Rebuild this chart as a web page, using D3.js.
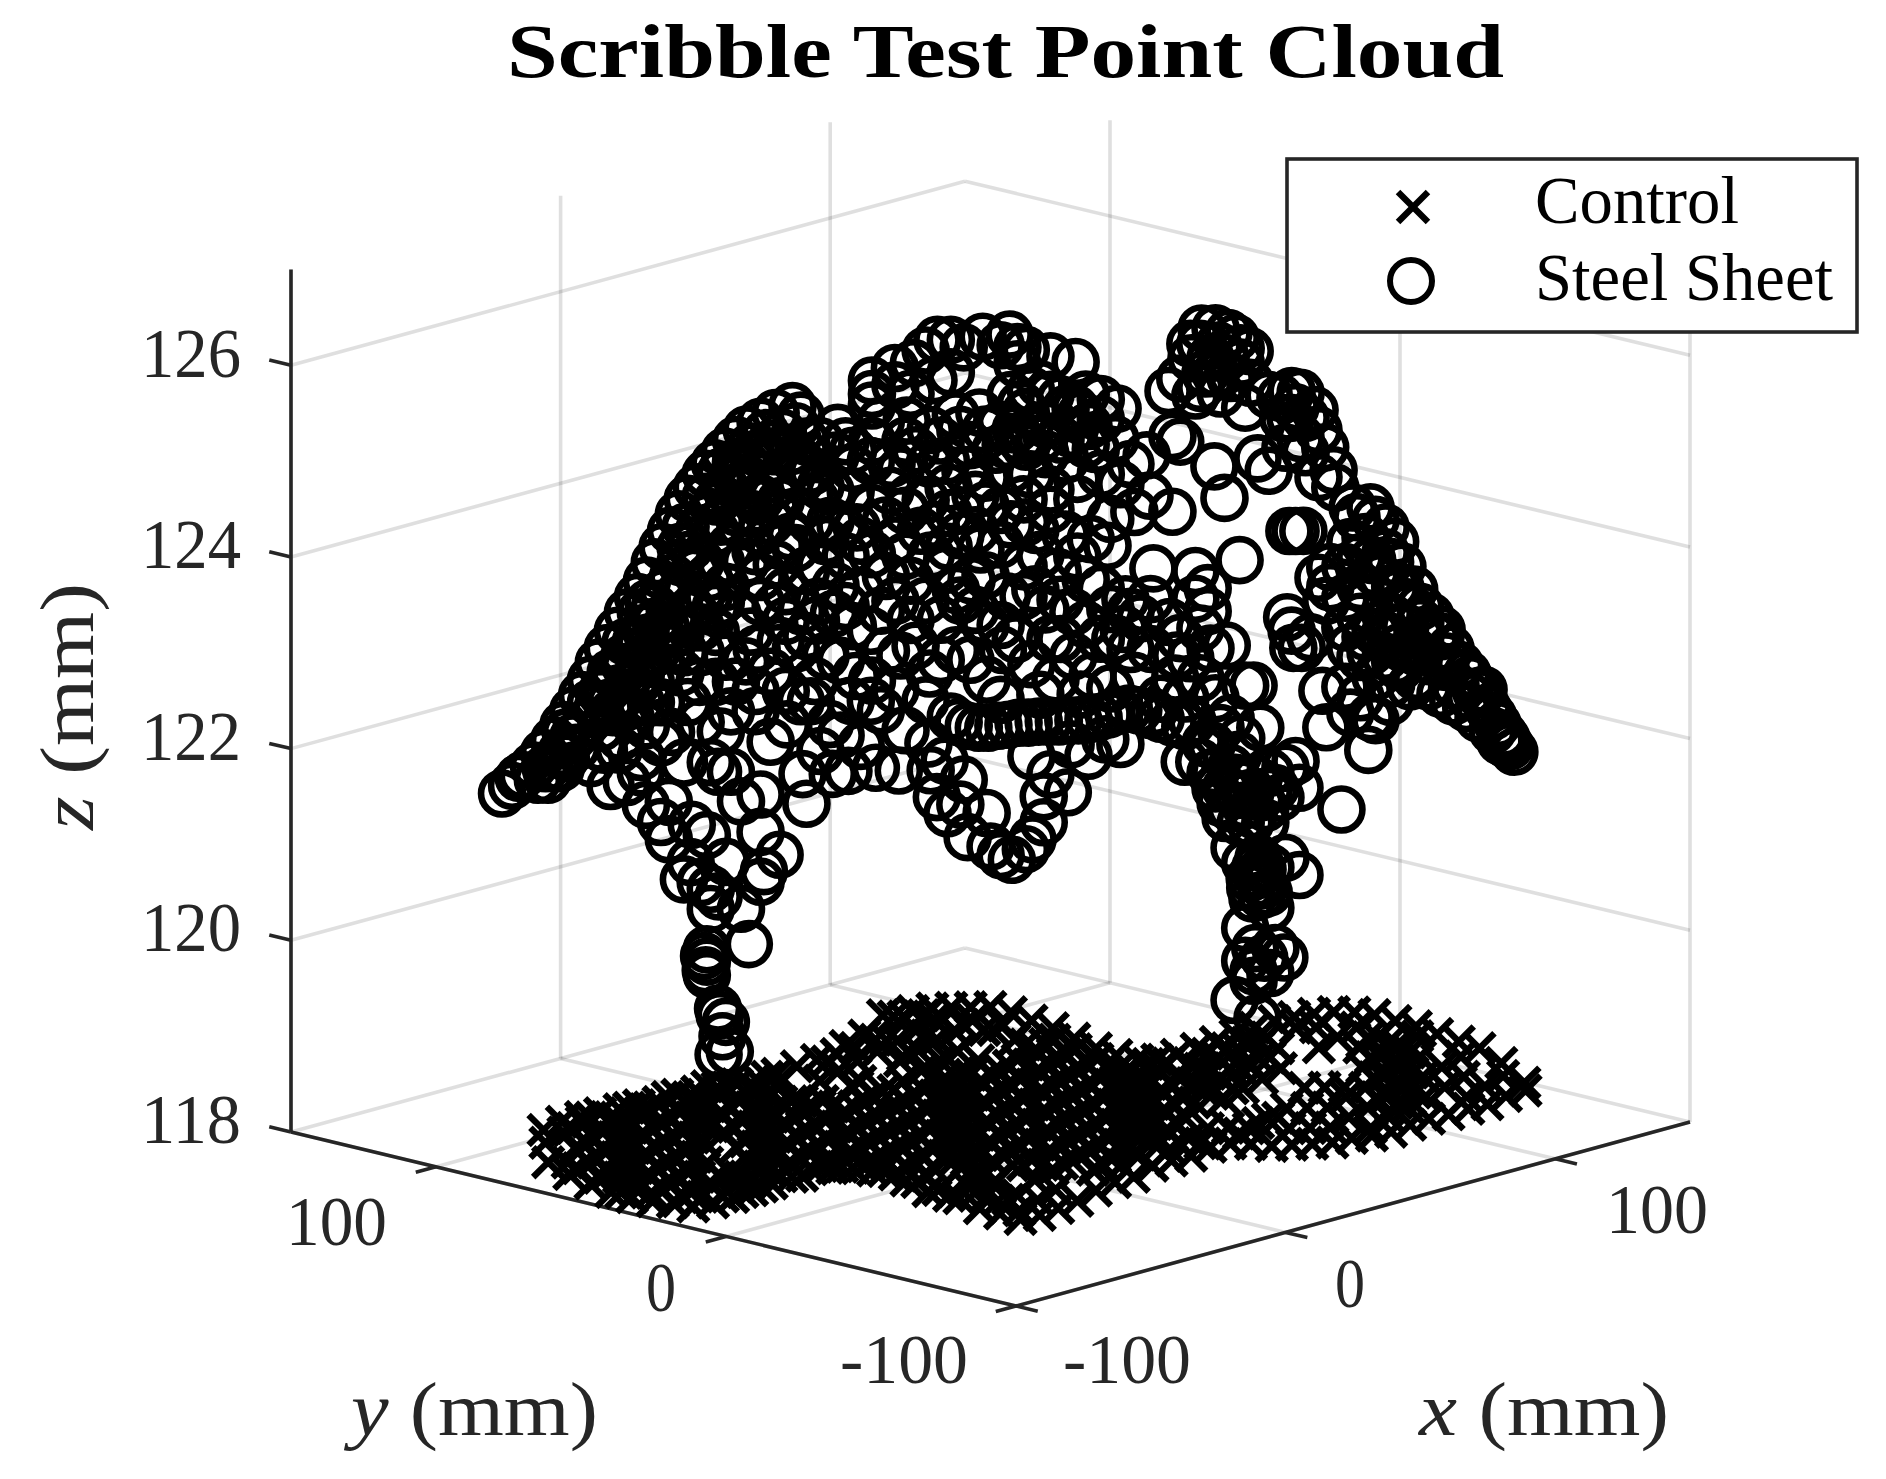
<!DOCTYPE html>
<html><head><meta charset="utf-8">
<script src="https://cdnjs.cloudflare.com/ajax/libs/d3/7.8.5/d3.min.js"></script>
<style>html,body{margin:0;padding:0;background:#fff}svg{display:block}</style>
</head><body><svg id="c" width="1886" height="1479"></svg>
<script>
const xTicks=[-100,0,100], yTicks=[-100,0,100], zTicks=[118,120,122,124,126];
const xLim=[-100,150], yLim=[-100,150], zLim=[118,127];
const seriesNames=["Control","Steel Sheet"];

// Control: plan coordinates grouped in strips of constant x-y, listing x+y in mm, with the strip's z
const controlDiff=[-160.5,-153.6,-146.6,-139.6,-132.5,-125.4,-118.3,-111.2,-104,-96.6,-89.5,-82.2,-74.6,-67.3,-59.9,-52.6,-45.5,-38,-30.4,-23.3,-16.3,-9.5,-2.6,4.4,11.4,18.3,25.5,32.6,39.8,46.7,53.9,61,68.2,75.5,82.7,90,97.3,104.5,111.8,119,126.1,133.4,140.4,147.5,154.5,161.7,169,176,183,190.2,
-150.2,-143.1,-136.1,-129,-121.9,-114.8,-107.6,-100.2,-93,-85.8,-78.4,-71,-63.6,-56.3,-49,-41.8,-34.2,-26.9,-19.8,-13,-6,1,8,15,22,29,36,43,50,57.5,64.6,72,79,86.3,93.6,101,137,144,151];
const controlZ=[118.16,118.17,118.18,118.18,118.19,118.20,118.21,118.21,118.22,118.23,118.24,118.25,118.25,118.26,118.27,118.28,118.28,118.29,118.30,118.31,118.32,118.32,118.33,118.34,118.35,118.36,118.36,118.37,118.38,118.39,118.40,118.40,118.41,118.42,118.43,118.44,118.44,118.45,118.46,118.47,118.48,118.48,118.49,118.50,118.51,118.51,118.52,118.53,118.54,118.55,
118.17,118.18,118.19,118.19,118.20,118.21,118.22,118.23,118.23,118.24,118.25,118.26,118.27,118.27,118.28,118.29,118.30,118.30,118.31,118.32,118.33,118.34,118.34,118.35,118.36,118.37,118.38,118.38,118.39,118.40,118.41,118.42,118.42,118.43,118.44,118.45,118.49,118.49,118.50];
const controlSum=[
[29,11,-16],[39,24,-18,-34],[44,37,9,-19,-49],[49,22,-6,-34,-61],[53,34,6,-22,-50,-70],
[57,47,19,-9,-37,-65,-77],[60,32,4,-24,-52,-80],[70,45,17,-11,-39,-67,-86],[73,58,30,2,-26,-54,-82],[77,71,43,15,-41,-76],
[80,56,28,0,-28,-56,-68],[85,69,41,13,-15,-43,-60],[93,82,54,26,-2,-30,-51],[102,53,39,11,-17,-42],[109,80,52,24,-4,-32,-42],
[116,93,36,9,-19,-43],[124,106,78,50,22,-6,-34,-47],[134,118,62,35,7,-21,-54],[165,131,103,75,47,19,-9,-37,-66],[171,144,116,88,60,32,5,-23,-51,-79],
[173,158,130,101,73,45,17,-11,-39,-92],[174,142,114,86,58,30,2,-26,-54,-81,-106],[173,155,99,71,43,15,-13,-41,-69,-97,-115],[172,140,84,56,28,0,-28,-49,-91,-112,-124],[163,125,97,69,41,13,-15,-43,-71,-99,-120],
[150,110,82,54,26,-2,-30,-58,-86,-112],[139,123,95,67,39,11,-17,-45,-102],[123,108,80,52,24,-4,-32,-60,-89],[108,93,65,37,9,-19,-47,-79],[97,78,50,22,-6,-34,-73],
[89,63,35,7,-21,-59],[89,75,47,20,-8,-36,-52],[94,60,33,5,-23,-47],[101,73,45,-10,-36],[109,86,58,30,-11,-33],
[117,99,71,43,-13,-35],[127,112,84,56,0,-38],[135,97,69,13,-15,-38],[139,124,40,12,-16,-38],[142,123,95,39,11,-17,-38],
[143,108,38,24,-4,-33],[142,121,93,65,37,9,-19,-30],[137,106,78,50,22,-6,-26],[127,91,63,35,7,-18],[118,104,76,48,20,-11],
[107,61,33,-5],[95,74,46,18,1],[84,31,6],[62,44,16],[33,22],
[30,2,-26],[43,15,-13,-41],[42,14,-14,-42,-63],[55,27,-1,-29,-57],[54,26,-2,-30,-58],
[67,39,11,-17,-45,-73],[65,37,9,-18,-46,-74],[79,51,23,-47,-75],[77,50,22,-6,-48,-69],[76,48,21,-7,-35,-63],
[89,61,33,5,-22,-50],[53,32,4,-24,-51],[45,17,-11,-39],[107,44,16,-12,-40],[127,71,43,15,-13,-41],
[140,56,28,0,-28,-49],[167,132,62,41,13,-15,-43,-64],[165,117,54,26,-2,-30,-57,-79],[165,137,81,53,25,-3,-31,-87],[157,101,66,38,10,-18,-46,-74],
[148,79,51,23,-5,-33,-61,-89],[140,78,50,22,-6,-34,-97],[146,90,62,35,7,-21,-49],[118,90,62,34,6,-22,-50],[117,89,61,33,6,-22,-50],
[101,73,45,17,-11,-38],[86,58,30,2,-25,-53],[85,57,29,1,-27,-55],[70,42,14,-14,-42],[83,55,27,-1,-29],
[82,54,26,-2,-29],[81,53,26,-31],[94,66,38],[100,72,44,-19],[106,78,-6],
[112,84,0],[106,78,50,22],[98,70,42,14],[83,55,27]];

// Steel Sheet: points (mm)
const steelX=[
-88.2,-86.4,-84.5,-82.5,-80.7,-78.9,-77.2,-75.5,-73.9,-72.3,-70.9,-69.3,-67.5,-65.7,-63.9,-62.3,-60.9,-59.5,-58,-56.6,-55,-53.4,-51.8,-50.2,-48.4,-46.4,-44.5,-42,-39.3,-36.3,
-77.7,-75.5,-73.2,-71.1,-69.5,-67.9,-66.4,-64.3,-62.5,-60.9,-59.3,-57.7,-56.3,-54.5,-53,-51.6,-49.8,-48.2,-46.4,-44.5,-42.5,-40.2,-38,-35.7,-33.9,
-72.3,-70.5,-67,-65.2,-63.4,-61.6,-59.5,-58,-56.3,-54.5,-52.7,-51.3,-49.1,-47.3,-45.5,-43.8,-42,-39.8,-37.5,-35.7,-33.4,-38.4,
-49.1,-46.4,-43.8,-41.1,-39.3,-42,-44.6,-36.6,-34.8,-32.1,-35.7,-40.2,-36.6,-68.8,-66.1,-63.4,-60.7,-58.9,-62,-56.3,-53.6,-59.8,-56.3,-52.7,
-34.8,-28.2,-26.8,-25.5,-25.5,-22.1,-22.1,-22.1,-18,-14.6,-12.5,-10.4,-8,-5.7,-2.3,2.5,3.9,0.9,9.8,14.3,5.4,-17.9,-15.2,-11.1,-8,3.9,
-20.5,-15.9,-11.6,-7.1,-2.9,0.9,5.4,8.9,12.5,16.1,21.8,18.8,13.4,8.9,4.5,0,-4.5,-8.9,-14.3,-22.1,-18.6,-11.8,-5.4,-1.8,2.7,5.4,12.5,16.6,17.9,21.4,24.1,27,22.3,18.8,14.6,9.8,
5,0.9,-3.6,-8.4,-8.4,-12.5,-15.2,-18.8,-22.1,-25.9,-24.8,-29.5,-30.4,-35.7,-39.1,-42.9,-42,-37.5,-31.3,-26.8,-22.1,-17.9,-13.4,-8.4,-3.6,0.9,5.4,9.8,14.6,24.8,27.5,31.6,20.5,17,12.5,8,20,14.6,
5,11.1,5,2,-1.8,-4.3,-8.9,-15.2,-19.6,-24.1,-28.6,-31.7,-34.8,-39.3,-46.1,-49.1,-43.8,-50,-54.3,-52.7,-38.4,-33.8,-28.9,-25.5,-20.5,-15.2,-9.8,-6.3,-1.8,3.6,8.9,13.9,18.8,22.9,24.1,28.2,35.7,31.1,37.9,35.7,37.9,36.6,41.3,38.4,
-42.7,-35.7,-48.2,-52.9,-46.4,-40.2,-32.3,-27.7,-22.1,-17,-11.8,-7.1,-1.6,1.3,6.4,13.9,17.3,24.8,32.3,27.7,18.8,9.8,46.1,44.6,
-62.5,-55,-67.3,-70,-59.8,-55.7,-49.6,-50.9,-49.1,-42.9,-37.3,-29.6,-34.8,-25.9,-20.5,-16.1,
-81.8,-80,-85.2,-78.6,-76.8,
-68.8,-65.9,-63.4,-62.5,-59.8,-58.4,-58.4,-54.3,-51.6,-55.7,-54.5,-50.9,-52.7,-48.2,-42,-41.4,-38.6,-42,-42,-45.5,-47.3,-50.9,-49.5,-45.5,-44.1,-51.6,-51.6,-51.6,-52.1,-51.8,-49.3,-48.2,-49.6,-49.5,-47.5,-48.8,
-33.8,-34.5,-29.1,-26.3,-21.4,-17.3,-24.1,-31.3,-11.6,
-12,-9.1,-5.7,-10.5,-8.6,-5,-1.6,-6.3,-0.9,2.9,0.9,5.4,6.6,8.6,8.6,6.4,12.9,9.8,
-8,-6.6,-4.8,-3,-1.3,0.5,2.3,4.1,5.9,7.7,9.5,11.3,13,14.8,16.6,18.4,20.2,21.9,23.8,25.5,27.7,29.5,31.6,33.9,
16.6,19.6,22.3,13.4,35.2,38.6,43.9,33.8,28.2,36.4,39.3,43.4,42,39.3,47.3,
41.1,43.8,46.4,49.1,51.8,53.6,54.3,48.8,43.4,42,44.6,46.1,48.2,50.9,40.2,39.3,38.4,
42.7,51.8,54.3,46.8,45.4,48,47.5,44.6,47,49.1,45.5,49.1,44.6,48,51.6,44.6,46.4,49.1,46.1,42.7,46.1,46.8,50,
61.8,66.6,59.1,
55,53.6,52.5,64.5,67.9,66.1,72.7,74.8,67.3,69.7,71.4,68.8,71.4,57.7,59.1,59.8,52.1,52.9,54.7,53.2,56.3,
79.7,69.3,84.3,87.2,58.4,67.9,70.7,72.3,75.9,65.2,62.5,66.1,70.5,74.1,77.7,
79.5,81.3,83,84.8,86.6,88.9,90.7,92.7,92,91.3,89.7,87.9,85.9,77.3,79.5,81.8,84.1,86.3,88.8,91.1,75,
75.9,63.8,60.4,57.7,57,57.7,52.9,58.9,60.7,48.8,46.8,48.8,44.6,35.7,30.9,33,31.6,39.1,40.9,43.6,
36.8,35,39.8,45.4,42,38.4,41.1,43.8,36.6,39.3,42.9,37.5,40.2,33,45.5,51.4,52.7,54.5,51.8,55.4,
20.5,23.2,25.9,27.7,21.4,24.1,33,32.1,34.8,33.9,36.6,29.5,40.2,37.5,42,
2.7,6.3,9.8,3.6,11.6,16.1,18.8,
-70.5,-68.4,-66.1,-61.6,-63.9,-66.1,-62,-59.8,-57.7,-60.7,-63.4,-55.7,-53.6,-50,-48.2,-51.3,-44.6,-42,-46.4,-44.6,-50,-52.7,-56.3,-55.4,-51.8,-49.1,-63.4,-66.1,-68.8,-72.3,-70.5,-76.8,-75,-77.7,-80.4,-34.8,-32.6,-31.3,-31.3,-40.2,-42.9,
-16.1,-9.8,-1.8,1.8,8,14.3,-6.3,-22.3,-17,6.3,-28.6,-29.5,-33,
-19.6,-16.1,-10.7,-6.3,-1.8,2.7,7.1,-2.7,-6.3,-16.1,-11.6,-24.1,-27.7,-33.9,-38.4,
-42,-37.5,-32.1,-26.8,-22.3,-17.9,-12.5,-7.1,-3.6,0.9,7.1,11.6,16.1,16.1,11.6,
-44.6,-37.5,-30.4,-25,-19.6,-14.3,-9.8,-4.5,10.7,20.5,-50,-42.9,-47.3,-52.7,-58,-63.4,-40.2,-33,-27.7,-22.3,-17.9,-12.5,0.9,8,15.2,
62.5,65.2,67.9,70.5,73.2,75.9,78.5,63.4,67,69.7,72.3,75,77.7,80.4,67.9,74.1,71.4,65.2,67,70.5,63.4,
63.4,65.2,67.9,70.5,62.5,69.7,67,72.3,73.2,59.8,62.5,65.2,
82.2,84.8,90.2,80.4,53.6,55.4,50.9,54.5,34.8,41.6,43.8,39.3,36.6,4.5,8,11.6,15.2,
42.9,45.5,47.3,50,45.5,43.8,48.2,41.1,46.4,47.7,47.3,45.9,48.8];
const steelY=[
88.2,86.4,84.5,82.5,80.7,78.9,77.2,75.5,73.9,72.3,70.9,69.3,67.5,65.7,63.9,62.3,60.9,59.5,58,56.6,55,53.4,51.8,50.2,48.4,46.4,44.5,42,39.3,36.3,
77.7,75.5,73.2,71.1,69.5,67.9,66.4,64.3,62.5,60.9,59.3,57.7,56.3,54.5,53,51.6,49.8,48.2,46.4,44.5,42.5,40.2,38,35.7,33.9,
72.3,70.5,67,65.2,63.4,61.6,59.5,58,56.3,54.5,52.7,51.3,49.1,47.3,45.5,43.8,42,39.8,37.5,35.7,33.4,38.4,
49.1,46.4,43.8,41.1,39.3,42,44.6,36.6,34.8,32.1,35.7,40.2,36.6,68.8,66.1,63.4,60.7,58.9,62,56.3,53.6,59.8,56.3,52.7,
34.8,28.2,26.8,25.5,25.5,22.1,22.1,22.1,18,14.6,12.5,10.4,8,5.7,2.3,-2.5,-3.9,-0.9,-9.8,-14.3,-5.4,17.9,15.2,11.1,8,-3.9,
20.5,15.9,11.6,7.1,2.9,-0.9,-5.4,-8.9,-12.5,-16.1,-21.8,-18.8,-13.4,-8.9,-4.5,0,4.5,8.9,14.3,22.1,18.6,11.8,5.4,1.8,-2.7,-5.4,-12.5,-16.6,-17.9,-21.4,-24.1,-27,-22.3,-18.8,-14.6,-9.8,
-5,-0.9,3.6,8.4,8.4,12.5,15.2,18.8,22.1,25.9,24.8,29.5,30.4,35.7,39.1,42.9,42,37.5,31.3,26.8,22.1,17.9,13.4,8.4,3.6,-0.9,-5.4,-9.8,-14.6,-24.8,-27.5,-31.6,-20.5,-17,-12.5,-8,-20,-14.6,
-5,-11.1,-5,-2,1.8,4.3,8.9,15.2,19.6,24.1,28.6,31.7,34.8,39.3,46.1,49.1,43.8,50,54.3,52.7,38.4,33.8,28.9,25.5,20.5,15.2,9.8,6.3,1.8,-3.6,-8.9,-13.9,-18.8,-22.9,-24.1,-28.2,-35.7,-31.1,-37.9,-35.7,-37.9,-36.6,-41.3,-38.4,
42.7,35.7,48.2,52.9,46.4,40.2,32.3,27.7,22.1,17,11.8,7.1,1.6,-1.3,-6.4,-13.9,-17.3,-24.8,-32.3,-27.7,-18.8,-9.8,-46.1,-44.6,
62.5,55,67.3,70,59.8,55.7,49.6,50.9,49.1,42.9,37.3,29.6,34.8,25.9,20.5,16.1,
81.8,80,85.2,78.6,76.8,
68.8,65.9,63.4,62.5,59.8,58.4,58.4,54.3,51.6,55.7,54.5,50.9,52.7,48.2,42,41.4,38.6,42,42,45.5,47.3,50.9,49.5,45.5,44.1,51.6,51.6,51.6,52.1,51.8,49.3,48.2,49.6,49.5,47.5,48.8,
33.8,34.5,29.1,26.3,21.4,17.3,24.1,31.3,11.6,
12,9.1,5.7,10.5,8.6,5,1.6,6.3,0.9,-2.9,-0.9,-5.4,-6.6,-8.6,-8.6,-6.4,-12.9,-9.8,
8,6.6,4.8,3,1.3,-0.5,-2.3,-4.1,-5.9,-7.7,-9.5,-11.3,-13,-14.8,-16.6,-18.4,-20.2,-21.9,-23.8,-25.5,-27.7,-29.5,-31.6,-33.9,
-16.6,-19.6,-22.3,-13.4,-35.2,-38.6,-43.9,-33.8,-28.2,-36.4,-39.3,-43.4,-42,-39.3,-47.3,
-41.1,-43.8,-46.4,-49.1,-51.8,-53.6,-54.3,-48.8,-43.4,-42,-44.6,-46.1,-48.2,-50.9,-40.2,-39.3,-38.4,
-42.7,-51.8,-54.3,-46.8,-45.4,-48,-47.5,-44.6,-47,-49.1,-45.5,-49.1,-44.6,-48,-51.6,-44.6,-46.4,-49.1,-46.1,-42.7,-46.1,-46.8,-50,
-61.8,-66.6,-59.1,
-55,-53.6,-52.5,-64.5,-67.9,-66.1,-72.7,-74.8,-67.3,-69.7,-71.4,-68.8,-71.4,-57.7,-59.1,-59.8,-52.1,-52.9,-54.7,-53.2,-56.3,
-79.7,-69.3,-84.3,-87.2,-58.4,-67.9,-70.7,-72.3,-75.9,-65.2,-62.5,-66.1,-70.5,-74.1,-77.7,
-79.5,-81.3,-83,-84.8,-86.6,-88.9,-90.7,-92.7,-92,-91.3,-89.7,-87.9,-85.9,-77.3,-79.5,-81.8,-84.1,-86.3,-88.8,-91.1,-75,
-75.9,-63.8,-60.4,-57.7,-57,-57.7,-52.9,-58.9,-60.7,-48.8,-46.8,-48.8,-44.6,-35.7,-30.9,-33,-31.6,-39.1,-40.9,-43.6,
-36.8,-35,-39.8,-45.4,-42,-38.4,-41.1,-43.8,-36.6,-39.3,-42.9,-37.5,-40.2,-33,-45.5,-51.4,-52.7,-54.5,-51.8,-55.4,
-20.5,-23.2,-25.9,-27.7,-21.4,-24.1,-33,-32.1,-34.8,-33.9,-36.6,-29.5,-40.2,-37.5,-42,
-2.7,-6.3,-9.8,-3.6,-11.6,-16.1,-18.8,
70.5,68.4,66.1,61.6,63.9,66.1,62,59.8,57.7,60.7,63.4,55.7,53.6,50,48.2,51.3,44.6,42,46.4,44.6,50,52.7,56.3,55.4,51.8,49.1,63.4,66.1,68.8,72.3,70.5,76.8,75,77.7,80.4,34.8,32.6,31.3,31.3,40.2,42.9,
16.1,9.8,1.8,-1.8,-8,-14.3,6.3,22.3,17,-6.3,28.6,29.5,33,
19.6,16.1,10.7,6.3,1.8,-2.7,-7.1,2.7,6.3,16.1,11.6,24.1,27.7,33.9,38.4,
42,37.5,32.1,26.8,22.3,17.9,12.5,7.1,3.6,-0.9,-7.1,-11.6,-16.1,-16.1,-11.6,
44.6,37.5,30.4,25,19.6,14.3,9.8,4.5,-10.7,-20.5,50,42.9,47.3,52.7,58,63.4,40.2,33,27.7,22.3,17.9,12.5,-0.9,-8,-15.2,
-62.5,-65.2,-67.9,-70.5,-73.2,-75.9,-78.5,-63.4,-67,-69.7,-72.3,-75,-77.7,-80.4,-67.9,-74.1,-71.4,-65.2,-67,-70.5,-63.4,
-63.4,-65.2,-67.9,-70.5,-62.5,-69.7,-67,-72.3,-73.2,-59.8,-62.5,-65.2,
-82.2,-84.8,-90.2,-80.4,-53.6,-55.4,-50.9,-54.5,-34.8,-41.6,-43.8,-39.3,-36.6,-4.5,-8,-11.6,-15.2,
-42.9,-45.5,-47.3,-50,-45.5,-43.8,-48.2,-41.1,-46.4,-47.7,-47.3,-45.9,-48.8];
const steelZ=[
121.89,121.97,122.08,122.18,122.31,122.44,122.6,122.75,122.91,123.07,123.25,123.4,123.58,123.77,123.93,124.1,124.29,124.45,124.62,124.79,124.95,125.07,125.21,125.32,125.44,125.56,125.67,125.75,125.84,125.91,
122.31,122.47,122.62,122.78,122.96,123.12,123.3,123.46,123.61,123.82,123.98,124.13,124.29,124.45,124.62,124.76,124.92,125.05,125.18,125.3,125.42,125.52,125.63,125.7,125.54,
122.2,122.36,122.47,122.67,122.83,123.04,123.2,123.4,123.56,123.77,123.93,124.13,124.29,124.45,124.66,124.79,124.95,125.07,125.23,125.33,125.23,124.92,
125.23,125.33,125.49,125.63,125.44,125.18,125.02,125.44,125.13,124.92,124.81,124.71,124.55,122.83,122.93,123.12,123.35,123.61,123.87,123.98,124.19,122.83,123.14,123.35,
125.81,125.68,125.54,125.44,125.26,126.17,126.03,125.91,126.3,126.35,126.48,126.59,126.59,126.51,126.62,126.64,126.51,126.53,126.41,126.35,126.48,126.12,126.03,126.17,126.25,126.33,
125.75,125.75,125.65,125.8,125.83,125.7,125.83,125.7,125.86,126.01,125.86,125.75,125.6,125.39,125.54,125.44,125.49,125.33,125.44,125.54,125.3,125.3,125.23,125.15,125.23,125.47,125.33,125.68,125.44,125.54,125.28,125.37,125.07,125.18,125.13,125.02,
124.92,124.81,124.97,125.05,124.78,124.92,124.95,125.02,124.84,125.02,124.64,124.71,124.5,124.43,124.26,124.4,124.13,123.98,124.24,124.34,124.36,124.5,124.6,124.43,124.6,124.45,124.68,124.81,124.92,124.78,124.95,124.78,124.71,124.5,124.55,124.34,124.43,124.32,
124.22,124.16,123.91,123.91,124.13,124.08,124.19,124.08,124.13,123.98,124.03,123.87,123.77,123.82,123.74,123.87,123.56,123.56,123.8,123.61,123.46,123.51,123.74,123.61,123.77,123.67,123.67,123.87,123.61,123.46,123.77,123.74,123.98,123.56,123.74,124.19,124.16,123.63,123.74,123.87,123.98,123.56,123.38,123.35,
123.38,123.38,123.3,123.04,123.04,123.14,123.04,123.25,123.04,123.3,123.11,123.35,123.04,123.35,123.2,123.28,123.07,123.07,123.28,123.35,123.46,123.46,122.96,122.96,
122.59,122.83,122.34,122.34,122.41,122.2,122.1,122.2,122.52,122.73,122.59,122.59,122.83,122.83,122.73,122.52,
122.03,122.03,122.05,122.15,122.26,
121.96,122,122.1,121.76,121.58,121.79,121.4,121.55,121.44,120.98,121.16,120.88,120.95,121.16,120.95,121.06,121.23,121.47,121.86,121.79,122.1,120.67,120.8,120.67,120.3,120.25,120.12,119.98,120.18,120.03,119.56,119.49,119.63,119.15,119.18,119.34,
121.76,122.07,122.07,122.1,122.13,122.1,122.36,122.31,122.1,
122.38,122.2,122,121.82,121.65,121.4,121.65,121.74,121.3,121.16,121.21,121.27,121.37,121.55,121.82,122.24,121.86,122.05,
122.66,122.6,122.56,122.54,122.54,122.56,122.57,122.59,122.59,122.6,122.6,122.6,122.61,122.61,122.62,122.64,122.67,122.71,122.73,122.71,122.66,122.62,122.58,122.54,
122.24,122.41,122.36,122.36,122.59,122.34,122.41,122.17,122.69,122.17,122.07,122.24,122.62,122.83,122.52,
121.89,121.94,121.99,122.05,122.1,122.17,121.89,121.86,121.82,121.68,121.71,121.61,121.68,121.79,121.74,121.89,122.05,
121.27,121.16,120.98,120.98,120.95,120.88,120.77,121.11,121.16,121.06,120.85,120.64,120.43,120.12,120.12,120.09,120.22,119.96,119.98,119.68,119.88,119.49,120.22,
121.66,122.28,122.52,
124.57,124.57,124.57,124.71,124.68,124.5,124.19,123.95,124.26,124.34,124.45,124.08,123.98,124.08,123.84,124.19,123.67,123.53,123.35,123.35,123.46,
123.53,123.46,123.07,122.9,122.9,122.59,122.97,123.35,123.46,123.25,122.94,123.46,123.67,123.77,123.67,
123.46,123.33,123.16,123.01,122.86,122.62,122.44,122.25,122.31,122.39,122.54,122.71,122.88,122.94,122.86,122.78,122.71,122.6,122.47,122.33,123.04,
123.77,124.81,125.2,125.13,125.83,125.62,126.03,125.44,125.02,125.2,125.33,125.99,125.86,125.99,126.04,125.51,125.57,125.25,124.92,124.27,
126.69,126.38,126.51,126.45,126.17,126.38,126.38,126.33,126.53,126.69,126.59,126.22,126.01,126.17,126.12,125.75,125.75,125.54,125.44,125.39,
123.77,123.87,123.67,123.87,123.46,123.35,123.46,123.04,123.25,122.83,123.04,122.83,122.52,122.36,122.1,
126.01,126.06,126.01,125.65,125.54,125.49,125.96,
122.57,122.73,122.78,122.83,123.04,123.2,123.3,123.51,123.72,123.66,123.77,123.35,123.61,123.82,124.03,123.93,124.29,124.6,124.81,125.13,124.6,124.29,124.45,124.66,124.97,124.71,123.46,123.46,123.14,122.83,122.93,122.52,122.36,122.15,122.15,125.33,125.23,125.07,125.54,125.33,124.92,
125.54,125.54,125.65,125.49,125.54,125.86,125.65,125.33,125.23,125.18,125.39,125.02,124.71,
124.71,124.81,124.66,124.81,124.86,124.66,124.6,124.4,124.55,124.34,124.34,124.5,124.66,124.19,124.45,
123.87,123.67,123.67,123.82,123.56,123.87,123.87,123.98,123.77,123.61,123.98,123.87,124.08,123.61,123.46,
123.25,122.94,123.3,123.09,123.35,123.4,123.25,123.25,123.04,122.94,123.04,122.94,122.73,122.62,122.52,122.26,122.41,122.83,122.47,122.83,122.94,122.83,122.83,122.88,122.88,
123.56,123.67,123.51,123.46,123.56,123.61,123.46,123.35,123.3,123.25,123.14,123.3,123.2,123.25,123.04,122.94,123.2,122.83,122.62,122.78,122.67,
124.45,124.29,124.13,124.24,124.19,124.6,124.81,123.98,123.82,123.98,123.87,123.98,
122.94,122.83,122.36,123.14,125.86,125.75,125.96,126.01,126.53,126.64,126.48,126.22,126.07,125.91,126.12,125.96,125.8,
122,121.84,121.79,121.89,121.53,121.53,121.53,121.58,121.06,121.04,120.9,120.74,120.8];

const uScale=d3.scaleLinear().domain(xLim).range([0,1]);
const vScale=d3.scaleLinear().domain(yLim).range([0,1]);
const wScale=d3.scaleLinear().domain(zLim).range([0,862.6]);
const F=[1016,1306],R=[1690,1122],L=[291,1132];
function project(x,y,z){const u=uScale(x),v=vScale(y);
  return [F[0]+u*(R[0]-F[0])+v*(L[0]-F[0]), F[1]+u*(R[1]-F[1])+v*(L[1]-F[1])-wScale(z)];}

const svg=d3.select("#c");
const INK="#262626";
const serif="'Liberation Serif','Times New Roman',serif";
function seg(g,a,b){g.append("line").attr("x1",a[0]).attr("y1",a[1]).attr("x2",b[0]).attr("y2",b[1]);}

// grid
const grid=svg.append("g").attr("stroke",INK).attr("stroke-opacity",0.15).attr("stroke-width",3.6).attr("fill","none");
xTicks.forEach(t=>{ seg(grid,project(t,yLim[0],zLim[0]),project(t,yLim[1],zLim[0]));
  seg(grid,project(t,yLim[1],zLim[0]),project(t,yLim[1],zLim[1]));});
yTicks.forEach(t=>{ seg(grid,project(xLim[0],t,zLim[0]),project(xLim[1],t,zLim[0]));
  seg(grid,project(xLim[1],t,zLim[0]),project(xLim[1],t,zLim[1]));});
zTicks.forEach(t=>{ seg(grid,project(xLim[0],yLim[1],t),project(xLim[1],yLim[1],t));
  seg(grid,project(xLim[1],yLim[1],t),project(xLim[1],yLim[0],t));});

// axes
const ax=svg.append("g").attr("stroke",INK).attr("stroke-width",3.6).attr("fill","none");
seg(ax,project(xLim[0],yLim[1],zLim[0]),project(xLim[0],yLim[1],zLim[1]));
seg(ax,project(xLim[0],yLim[0],zLim[0]),project(xLim[0],yLim[1],zLim[0]));
seg(ax,project(xLim[0],yLim[0],zLim[0]),project(xLim[1],yLim[0],zLim[0]));
xTicks.forEach(t=>{const a=project(t,yLim[0],zLim[0]);seg(ax,a,project(t,yLim[0]-7.5,zLim[0]));});
yTicks.forEach(t=>{const a=project(xLim[0],t,zLim[0]);seg(ax,a,project(xLim[0]-7.5,t,zLim[0]));});
zTicks.forEach(t=>{const a=project(xLim[0],yLim[1],t);seg(ax,a,project(xLim[0],yLim[1]+7.5,t));});

// marks
const crossPath=d3.symbol().type(d3.symbolX).size(588)();
const circlePath=d3.symbol().type(d3.symbolCircle).size(1385)();
const controlPts=[];
controlSum.forEach((list,i)=>list.forEach(s=>{
  controlPts.push([(s+controlDiff[i])/2,(s-controlDiff[i])/2,controlZ[i]]);}));
svg.append("g").attr("fill","none").attr("stroke","#000").attr("stroke-width",6.4)
  .selectAll("path").data(controlPts).join("path").attr("d",crossPath)
  .attr("transform",d=>{const p=project(d[0],d[1],d[2]);return `translate(${p[0]},${p[1]})`;});
svg.append("g").attr("fill","none").attr("stroke","#000").attr("stroke-width",6.6)
  .selectAll("path").data(steelX.map((x,i)=>[x,steelY[i],steelZ[i]])).join("path").attr("d",circlePath)
  .attr("transform",d=>{const p=project(d[0],d[1],d[2]);return `translate(${p[0]},${p[1]})`;});

// text helper
function txt(str,x,y,size,w,opt={}){
  const t=svg.append("text").attr("x",x).attr("y",y).attr("font-family",serif).attr("font-size",size)
   .attr("fill",opt.fill||INK).attr("font-weight",opt.bold?"bold":"normal");
  if(opt.parts){opt.parts.forEach(p=>t.append("tspan").attr("font-style",p[1]?"italic":"normal").text(p[0]));}
  else t.text(str);
  if(w){t.attr("textLength",w).attr("lengthAdjust","spacingAndGlyphs");}
  if(opt.transform)t.attr("transform",opt.transform);
  return t;
}
txt("Scribble Test Point Cloud",507,77,76,997,{bold:true,fill:"#000"});
zTicks.slice().reverse().forEach((t,i)=>txt(String(t),141,[377,568,760,951,1143][i],70,100));
txt("100",286,1245,70,101); txt("0",646,1311,70,30); txt("-100",840,1383,70,128);
txt("-100",1063,1383,70,128); txt("0",1335,1307,70,30); txt("100",1606,1233,70,102);
txt("",1419,1435,76,250,{parts:[["x",true],[" (mm)",false]]});
txt("",351,1435,76,247,{parts:[["y",true],[" (mm)",false]]});
txt("",0,0,76,247,{parts:[["z",true],[" (mm)",false]],transform:"translate(93,830) rotate(-90)"});

// legend
const lg=svg.append("g");
lg.append("rect").attr("x",1287).attr("y",159).attr("width",570).attr("height",173).attr("fill","#fff").attr("stroke",INK).attr("stroke-width",3.6);
lg.append("path").attr("d",crossPath).attr("transform","translate(1413,207)").attr("fill","none").attr("stroke","#000").attr("stroke-width",6.4);
lg.append("path").attr("d",circlePath).attr("transform","translate(1411,281)").attr("fill","none").attr("stroke","#000").attr("stroke-width",6);
txt(seriesNames[0],1535,223,68,204,{fill:"#000"});
txt(seriesNames[1],1535,300,68,298,{fill:"#000"});
</script></body></html>
